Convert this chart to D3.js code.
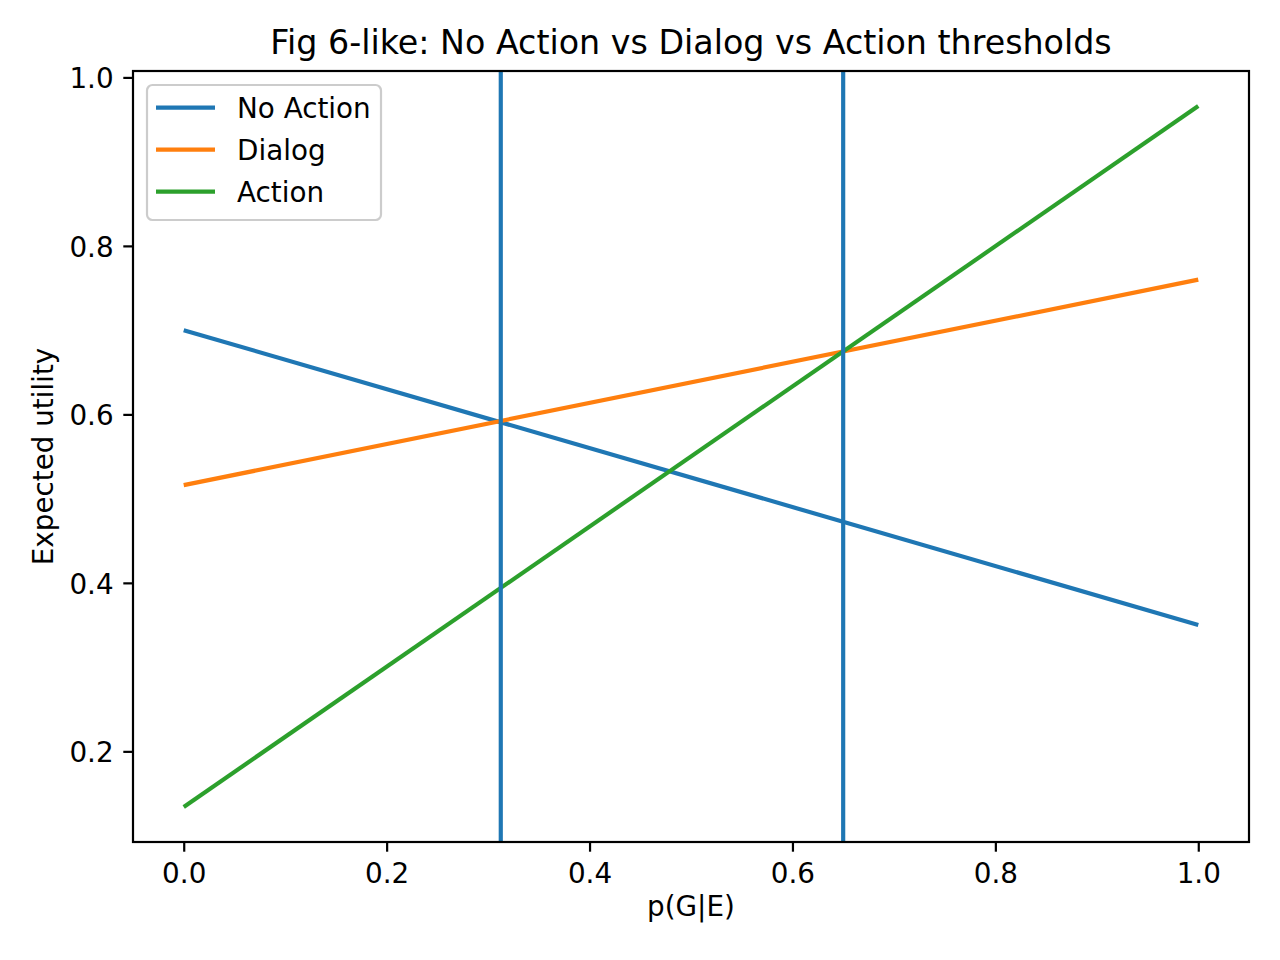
<!DOCTYPE html>
<html>
<head>
<meta charset="utf-8">
<script src="https://cdn.jsdelivr.net/npm/d3@7"></script>
<style>
  body { margin: 0; background: #fff; }
  svg text { font-family: "DejaVu Sans", sans-serif; fill: #000; }
</style>
</head>
<body>
<div id="chart"></div>
<script>
// Data
const P_VALUES = [0.0, 1.0];
const NO_ACTION = [0.70, 0.35];
const DIALOG = [0.516, 0.76];
const ACTION = [0.134, 0.966];
const THRESHOLDS = [0.3125, 0.65];
const SERIES_NAMES = ["No Action", "Dialog", "Action"];
const SERIES_COLORS = ["#1f77b4", "#ff7f0e", "#2ca02c"];
const X_TICKS = [0.0, 0.2, 0.4, 0.6, 0.8, 1.0];
const Y_TICKS = [0.2, 0.4, 0.6, 0.8, 1.0];

const FRAME_WIDTH = 1280;
const FRAME_HEIGHT = 960;
const MARGINS = {left: 133, right: 31, top: 71, bottom: 118};
const VIS_WIDTH = FRAME_WIDTH - MARGINS.left - MARGINS.right;
const VIS_HEIGHT = FRAME_HEIGHT - MARGINS.top - MARGINS.bottom;

const FONT = 27.8;
const LW = 4.17;

const svg = d3.select("#chart")
  .append("svg")
    .attr("width", FRAME_WIDTH)
    .attr("height", FRAME_HEIGHT);

const series = [NO_ACTION, DIALOG, ACTION];

// matplotlib style 5% margins
const xMin = d3.min(P_VALUES), xMax = d3.max(P_VALUES);
const xPad = (xMax - xMin) * 0.05;
const yMin = d3.min(series.flat()), yMax = d3.max(series.flat());
const yPad = (yMax - yMin) * 0.05;

const X_SCALE = d3.scaleLinear()
  .domain([xMin - xPad, xMax + xPad])
  .range([0, VIS_WIDTH]);

const Y_SCALE = d3.scaleLinear()
  .domain([yMin - yPad, yMax + yPad])
  .range([VIS_HEIGHT, 0]);

const plot = svg.append("g")
  .attr("transform", "translate(" + MARGINS.left + "," + MARGINS.top + ")");

// Lines
const line = d3.line()
  .x((d, i) => X_SCALE(P_VALUES[i]))
  .y(d => Y_SCALE(d));

series.forEach((s, i) => {
  plot.append("path")
    .datum(s)
    .attr("d", line)
    .attr("fill", "none")
    .attr("stroke", SERIES_COLORS[i])
    .attr("stroke-width", LW);
});

// Threshold verticals
plot.selectAll(".thresh")
  .data(THRESHOLDS)
  .enter()
  .append("line")
    .attr("class", "thresh")
    .attr("x1", d => X_SCALE(d))
    .attr("x2", d => X_SCALE(d))
    .attr("y1", 0)
    .attr("y2", VIS_HEIGHT)
    .attr("stroke", "#1f77b4")
    .attr("stroke-width", LW);

// Axes
const xAxis = plot.append("g")
  .attr("transform", "translate(0," + VIS_HEIGHT + ")")
  .call(d3.axisBottom(X_SCALE).tickValues(X_TICKS).tickFormat(d3.format(".1f"))
        .tickSize(9.7).tickPadding(9.7));
xAxis.select(".domain").remove();
xAxis.selectAll(".tick line").attr("stroke-width", 2.2);
xAxis.selectAll(".tick text")
  .attr("font-size", FONT + "px")
  .attr("font-family", "DejaVu Sans")
  .attr("y", 41).attr("dy", 0);

const yAxis = plot.append("g")
  .call(d3.axisLeft(Y_SCALE).tickValues(Y_TICKS).tickFormat(d3.format(".1f"))
        .tickSize(9.7).tickPadding(9.7));
yAxis.select(".domain").remove();
yAxis.selectAll(".tick line").attr("stroke-width", 2.2);
yAxis.selectAll(".tick text")
  .attr("font-size", FONT + "px")
  .attr("font-family", "DejaVu Sans")
  .attr("dy", "0.38em");

// Frame
plot.append("rect")
  .attr("width", VIS_WIDTH)
  .attr("height", VIS_HEIGHT)
  .attr("fill", "none")
  .attr("stroke", "#000")
  .attr("stroke-width", 2.2);

// Legend
const legend = plot.append("g").attr("transform", "translate(14,14)");
legend.append("rect")
  .attr("width", 234)
  .attr("height", 135)
  .attr("rx", 5.5)
  .attr("fill", "#fff")
  .attr("fill-opacity", 0.8)
  .attr("stroke", "#cccccc")
  .attr("stroke-width", 2.2);

SERIES_NAMES.forEach((name, i) => {
  const ly = 22.7 + i * 42;
  legend.append("line")
    .attr("x1", 9).attr("x2", 68)
    .attr("y1", ly).attr("y2", ly)
    .attr("stroke", SERIES_COLORS[i])
    .attr("stroke-width", LW);
  legend.append("text")
    .attr("x", 90)
    .attr("y", ly + 10.6)
    .attr("font-size", FONT + "px")
    .text(name);
});

// Title and labels
svg.append("text")
  .attr("x", MARGINS.left + VIS_WIDTH / 2)
  .attr("y", 54.3)
  .attr("text-anchor", "middle")
  .attr("font-size", "33.3px")
  .text("Fig 6-like: No Action vs Dialog vs Action thresholds");

svg.append("text")
  .attr("x", MARGINS.left + VIS_WIDTH / 2)
  .attr("y", 916)
  .attr("text-anchor", "middle")
  .attr("font-size", FONT + "px")
  .text("p(G|E)");

svg.append("text")
  .attr("transform", "translate(53," + (MARGINS.top + VIS_HEIGHT / 2) + ") rotate(-90)")
  .attr("text-anchor", "middle")
  .attr("font-size", FONT + "px")
  .text("Expected utility");
</script>
</body>
</html>
